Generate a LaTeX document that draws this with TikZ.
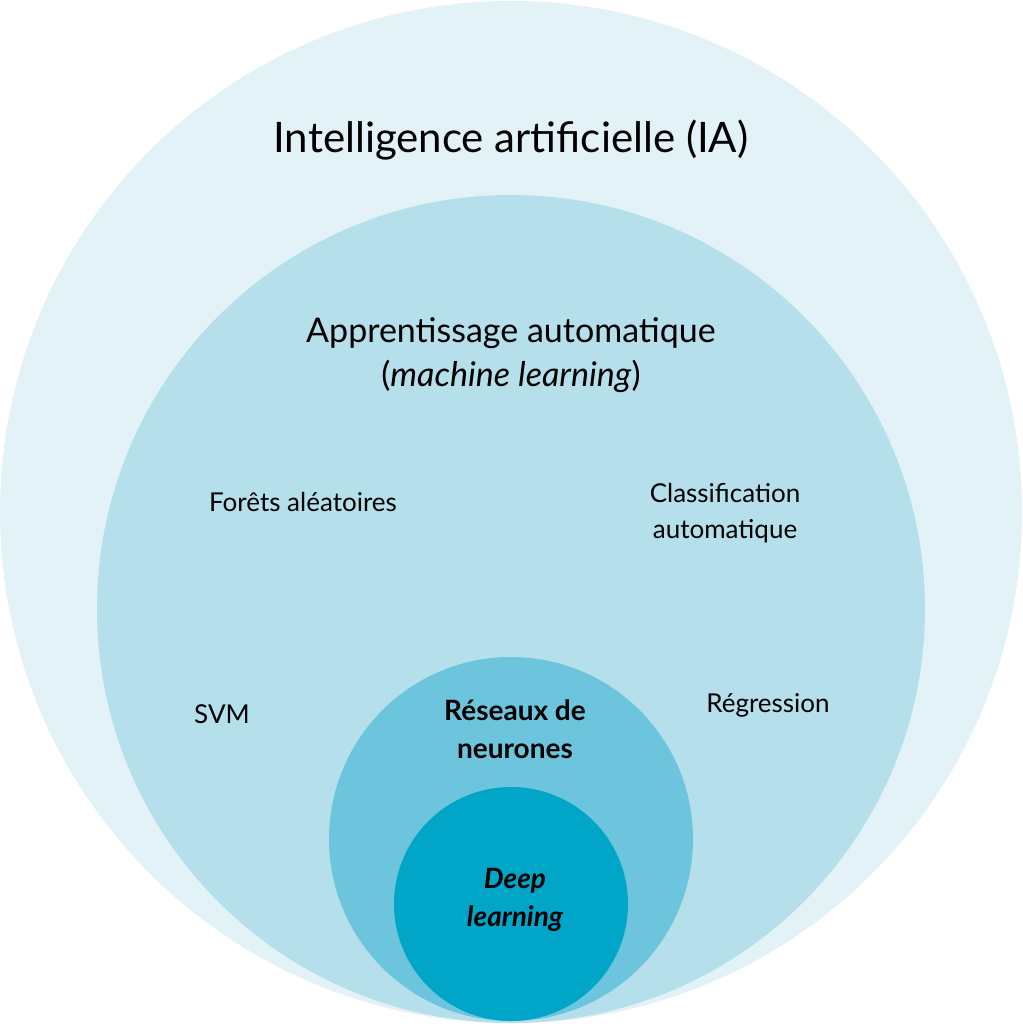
\documentclass[tikz,border=0pt]{standalone}
\usepackage{fontspec}
\setmainfont{Lato}
\begin{document}
\begin{tikzpicture}[x=1pt,y=-1pt,
  lab/.style={align=center,text=black,font=\fontsize{26}{36}\selectfont},
  big/.style={align=center,text=black,font=\fontsize{34}{44}\selectfont}]
\useasboundingbox (0,0) rectangle (1022,1024);
\definecolor{c1}{HTML}{E3F2F7}
\definecolor{c2}{HTML}{B5DFEB}
\definecolor{c3}{HTML}{6CC5DC}
\definecolor{c4}{HTML}{00A5C8}
\fill[c1] (511,512) circle (511);
\fill[c2] (511,609) circle (414);
\fill[c3] (511,839) circle (182);
\fill[c4] (511,904) circle (117);
\node[big,font=\fontsize{42}{50}\selectfont] (ia) at (511,140) {Intelligence artificielle (IA)};
\node[big] (ml) at (511,355) {Apprentissage automatique\\(\textit{machine learning})};
\node[lab] (rf) at (303,502) {Forêts aléatoires};
\node[lab] (cl) at (725,513) {Classification\\automatique};
\node[lab] (svm) at (222,714) {SVM};
\node[lab] (reg) at (768,705) {Régression};
\node[lab,font=\bfseries\fontsize{28}{38}\selectfont] (nn) at (515,729) {Réseaux de\\neurones};
\node[lab,font=\bfseries\itshape\fontsize{28}{38}\selectfont] (dl) at (515,900) {Deep\\learning};
\end{tikzpicture}
\end{document}
